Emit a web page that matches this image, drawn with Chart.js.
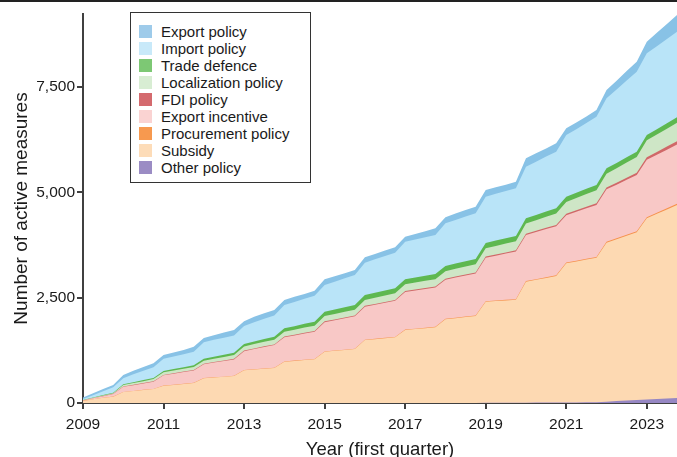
<!DOCTYPE html>
<html>
<head>
<meta charset="utf-8">
<script src="https://cdn.jsdelivr.net/npm/chart.js@4.4.1/dist/chart.umd.min.js"></script>
<style>
  html, body { margin: 0; padding: 0; background: #fff; }
  #wrap { position: relative; width: 677px; height: 457px; overflow: hidden; }
  #topline { position: absolute; left: 0; top: 0; width: 677px; height: 2px; background: #222; }
  #legend {
    position: absolute; left: 130px; top: 12px; width: 179px; height: 169px;
    border: 1px solid #333; background: #fff;
    font-family: "Liberation Sans", Arial, sans-serif; font-size: 15px; color: #1a1a1a;
  }
  #legend .row { position: absolute; left: 0; height: 17px; line-height: 17px; white-space: nowrap; }
  #legend .sw { position: absolute; left: 8px; top: 2px; width: 13px; height: 13px; }
  #legend .lb { position: absolute; left: 30px; top: 0; }
</style>
</head>
<body>
<div id="wrap">
  <canvas id="chart"></canvas>
  <div id="topline"></div>
  <div id="legend"></div>
</div>
<script>
// quarterly series, 2009 Q1 .. 2023 Q4 (stacked from the bottom)
const years = [2009, 2010, 2011, 2012, 2013, 2014, 2015, 2016, 2017, 2018, 2019, 2020, 2021, 2022, 2023];
const xTickYears = [2009, 2011, 2013, 2015, 2017, 2019, 2021, 2023];
const yTicks = [0, 2500, 5000, 7500];

const otherPolicy = [
  0, 0, 0, 0,  0, 0, 0, 0,  0, 0, 0, 0,  0, 0, 0, 0,  0, 0, 0, 0,
  0, 0, 0, 0,  0, 0, 0, 0,  0, 0, 0, 0,  0, 0, 0, 0,  0, 0, 0, 0,
  5, 5, 6, 6,  8, 9, 10, 11,  12, 14, 16, 20,  30, 45, 58, 70,  85, 97, 108, 120
];
const subsidy = [
  50, 90, 125, 150,  260, 285, 310, 330,  410, 430, 452, 475,  590, 605, 622, 640,
  780, 795, 812, 830,  980, 1000, 1018, 1037,  1218, 1240, 1260, 1282,  1496, 1515, 1538, 1560,
  1733, 1755, 1775, 1797,  1987, 2012, 2040, 2065,  2400, 2415, 2429, 2444,  2872, 2916, 2960, 3004,
  3304, 3346, 3389, 3430,  3776, 3845, 3912, 3982,  4300, 4393, 4487, 4580
];
const procurement = [
  1, 1, 1, 2,  2, 2, 2, 3,  3, 3, 3, 3,  4, 4, 4, 4,  5, 5, 5, 5,
  6, 6, 6, 6,  7, 7, 7, 8,  8, 8, 9, 9,  10, 10, 10, 11,  11, 12, 12, 12,
  13, 13, 14, 14,  15, 15, 16, 16,  17, 17, 18, 18,  20, 21, 22, 23,  25, 27, 29, 30
];
const exportIncentive = [
  7, 19, 37, 60,  121, 137, 153, 174,  244, 262, 278, 295,  326, 352, 371, 390,
  446, 481, 513, 540,  575, 599, 627, 650,  695, 718, 744, 767,  783, 808, 831, 857,
  891, 907, 921, 933,  927, 954, 973, 998,  1030, 1064, 1098, 1132,  1095, 1119, 1142, 1163,
  1126, 1162, 1199, 1232,  1247, 1272, 1308, 1339,  1367, 1376, 1391, 1404
];
const fdiPolicy = [
  3, 4, 5, 6,  7, 8, 9, 10,  10, 11, 12, 12,  13, 13, 14, 14,  15, 15, 16, 16,
  17, 17, 18, 18,  19, 19, 20, 20,  21, 21, 22, 22,  23, 23, 24, 24,  25, 25, 26, 26,
  27, 28, 28, 29,  30, 31, 32, 33,  34, 36, 38, 40,  42, 45, 48, 50,  58, 65, 72, 80
];
const localization = [
  5, 8, 10, 12,  35, 40, 45, 50,  62, 65, 68, 70,  72, 78, 84, 90,  98, 102, 106, 110,
  115, 118, 121, 124,  128, 131, 134, 137,  140, 145, 150, 155,  160, 165, 170, 175,
  180, 185, 190, 195,  200, 205, 210, 215,  240, 250, 260, 270,  280, 290, 300, 310,
  330, 345, 360, 375,  400, 415, 425, 440
];
const tradeDefence = [
  5, 8, 12, 15,  20, 23, 26, 28,  31, 34, 37, 40,  45, 48, 50, 52,  56, 62, 68, 74,
  80, 85, 90, 95,  100, 105, 110, 113,  116, 118, 120, 120,  120, 120, 120, 122,
  122, 122, 124, 124,  125, 125, 125, 125,  125, 125, 125, 125,  125, 125, 125, 125,
  127, 127, 127, 127,  127, 127, 128, 128
];
const importPolicy = [
  24, 55, 90, 127,  141, 185, 220, 252,  290, 300, 310, 323,  391, 400, 405, 410,
  430, 460, 480, 505,  554, 575, 595, 617,  634, 660, 685, 712,  767, 795, 820, 845,
  892, 900, 915, 926,  1014, 1035, 1060, 1083,  1098, 1110, 1120, 1132,  1225, 1265, 1305, 1344,
  1464, 1510, 1565, 1622,  1661, 1740, 1820, 1900,  1940, 1970, 2000, 2033
];
const exportPolicy = [
  35, 45, 50, 58,  79, 85, 90, 95,  90, 95, 100, 115,  100, 110, 125, 135,
  110, 125, 130, 130,  118, 120, 115, 119,  136, 130, 120, 118,  128, 130, 130, 128,
  119, 130, 145, 159,  143, 155, 155, 157,  159, 155, 150, 157,  199, 200, 190, 199,
  159, 160, 150, 159,  200, 210, 225, 237,  275, 320, 360, 396
];

const quarters = [];
years.forEach((y) => {
    ['Q1', 'Q2', 'Q3', 'Q4'].forEach((q) => quarters.push(y + ' ' + q));
});

// bottom to top
const series = [
    { label: 'Other policy', data: otherPolicy, fill: '#9687c3', key: '#9b8cc4' },
    { label: 'Subsidy', data: subsidy, fill: '#fdd9b2', key: '#fddcb8' },
    { label: 'Procurement policy', data: procurement, fill: '#f6914c', key: '#f7994f' },
    { label: 'Export incentive', data: exportIncentive, fill: '#f8c8c6', key: '#fad3d2' },
    { label: 'FDI policy', data: fdiPolicy, fill: '#d06868', key: '#d46a6e' },
    { label: 'Localization policy', data: localization, fill: '#cee6c6', key: '#d8edd3' },
    { label: 'Trade defence', data: tradeDefence, fill: '#5eb850', key: '#7dc874' },
    { label: 'Import policy', data: importPolicy, fill: '#b9e4f8', key: '#c8e9f9' },
    { label: 'Export policy', data: exportPolicy, fill: '#88c2e6', key: '#9ecbea' },
];

const FONT = '"Liberation Sans", Arial, sans-serif';
const AXIS = '#404040';

const ctx = document.getElementById('chart');
new Chart(ctx, {
    type: 'line',
    data: {
        labels: quarters,
        datasets: series.map((s) => ({
            label: s.label,
            data: s.data,
            backgroundColor: s.fill,
            borderColor: s.fill,
            borderWidth: 0,
            pointRadius: 0,
            tension: 0,
            fill: 'origin',
        })),
    },
    options: {
        responsive: true,
        maintainAspectRatio: false,
        animation: false,
        layout: { padding: { top: 14, right: 0, bottom: 0, left: 0 } },
        plugins: { legend: { display: false }, tooltip: { enabled: false } },
        scales: {
            x: {
                type: 'category',
                offset: false,
                afterBuildTicks: (scale) => {
                    scale.ticks = xTickYears.map((y) => ({ value: quarters.indexOf(y + ' Q1') }));
                },
                afterFit: (scale) => { scale.height = 54; },
                ticks: {
                    autoSkip: false,
                    maxRotation: 0,
                    padding: 6,
                    color: '#1a1a1a',
                    font: { family: FONT, size: 15.5 },
                    callback: function (v) { return this.getLabelForValue(v).slice(0, 4); },
                },
                grid: { drawOnChartArea: false, drawTicks: true, tickLength: 6, color: AXIS, lineWidth: 2 },
                border: { display: true, color: AXIS, width: 2 },
                title: {
                    display: true,
                    text: 'Year (first quarter)',
                    color: '#1a1a1a',
                    font: { family: FONT, size: 18.5, lineHeight: 0.9 },
                    padding: { top: 0, bottom: -1 },
                },
            },
            y: {
                stacked: true,
                min: 0,
                max: 9235,
                afterBuildTicks: (scale) => {
                    scale.ticks = yTicks.map((v) => ({ value: v }));
                },
                afterFit: (scale) => { scale.width = 83; },
                ticks: {
                    padding: 2,
                    color: '#1a1a1a',
                    font: { family: FONT, size: 15.5 },
                    callback: (v) => v.toLocaleString('en-US'),
                },
                grid: { drawOnChartArea: false, drawTicks: true, tickLength: 6, color: AXIS, lineWidth: 2 },
                border: { display: true, color: AXIS, width: 2 },
                title: {
                    display: true,
                    text: 'Number of active measures',
                    color: '#1a1a1a',
                    font: { family: FONT, size: 19 },
                    padding: { top: 10, bottom: 0 },
                },
            },
        },
    },
});

// legend box, top to bottom
const legend = document.getElementById('legend');
series.slice().reverse().forEach((s, i) => {
    const row = document.createElement('div');
    row.className = 'row';
    row.style.top = (10 + i * 17) + 'px';
    row.innerHTML = '<span class="sw" style="background:' + s.key + '"></span><span class="lb">' + s.label + '</span>';
    legend.appendChild(row);
});
</script>
</body>
</html>
